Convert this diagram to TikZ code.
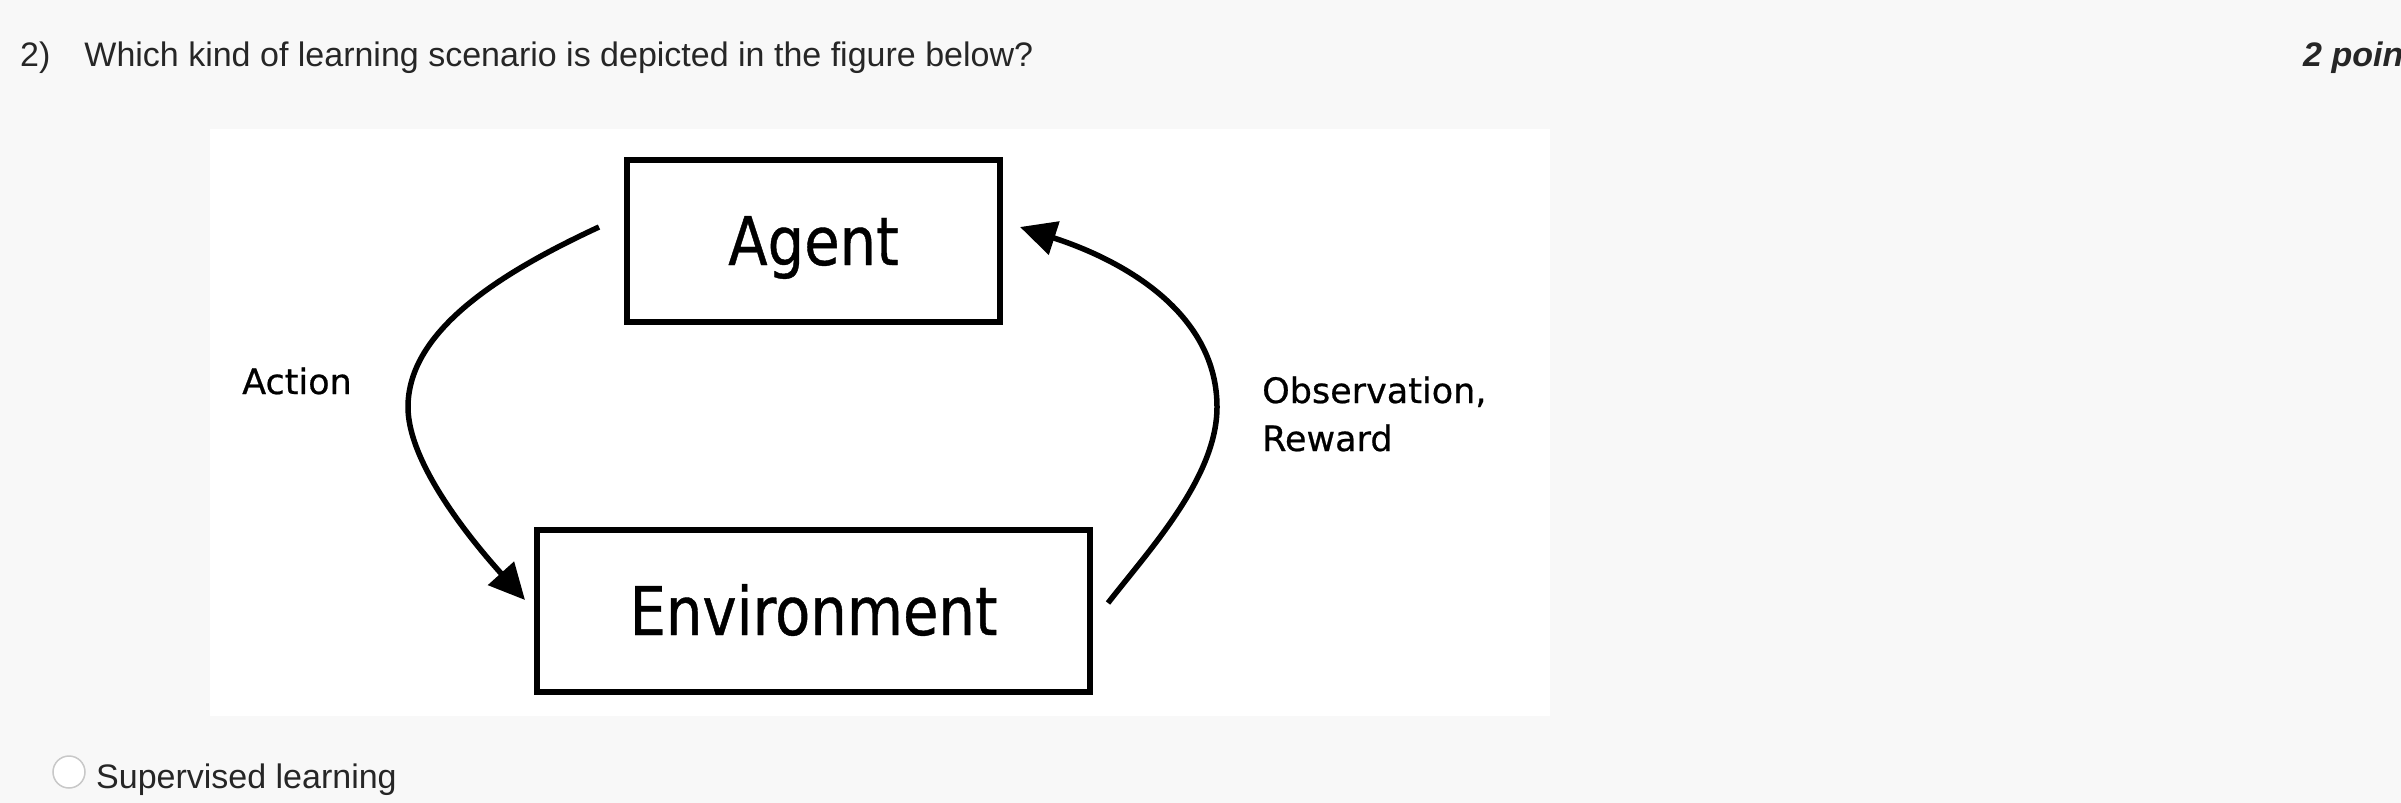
\documentclass[tikz,border=0pt]{standalone}
\usepackage{fontspec}
\setmainfont{Liberation Sans}
\newfontfamily\figfont[FakeStretch=0.86,FakeBold=0.6]{DejaVu Sans}
\newfontfamily\lblfont[FakeBold=0.6]{DejaVu Sans}
\usetikzlibrary{arrows.meta}
\definecolor{pagebg}{HTML}{F8F8F8}
\definecolor{qtext}{HTML}{262626}
\definecolor{radiogray}{HTML}{C8C8C8}
\begin{document}
\begin{tikzpicture}[x=1pt,y=-1pt,
  box/.style={draw=black, line width=6pt, fill=white, minimum height=162pt, inner sep=0pt,
    text height=48pt, text depth=0pt, font=\figfont\fontsize{67}{80}\selectfont, text=black},
  lbl/.style={font=\lblfont\fontsize{35}{48}\selectfont, inner sep=0pt, anchor=base west, text=black},
  qtxt/.style={font=\fontsize{34}{40}\selectfont, inner sep=0pt, anchor=base west, text=qtext},
  flow/.style={line width=5.5pt, -{Triangle[length=36pt,width=34pt]}}
]
\fill[pagebg] (0,0) rectangle (2401,803);
\useasboundingbox (0,0) rectangle (2401,803);
\fill[white] (210,129) rectangle (1550,716);

\node[qtxt] (question) at (20,66) {2)\hspace{34pt}Which kind of learning scenario is depicted in the figure below?};
\node[qtxt, font=\bfseries\itshape\fontsize{34}{40}\selectfont] (points) at (2303,66) {2 poin};

\node[box, minimum width=373pt] (agent) at (813.5,241) {Agent};
\node[box, minimum width=553pt] (env) at (813.5,611) {Environment};

\node[lbl] (action) at (242,394) {Action};
\node[lbl] (obs) at (1262,403) {\begin{tabular}[t]{@{}l@{}}Observation,\\Reward\end{tabular}};

\coordinate (a1) at ([xshift=-25pt,yshift=14pt]agent.west);
\coordinate (lm) at (408,407);
\coordinate (e1) at ([xshift=-9pt,yshift=11pt]env.west);
\draw[flow] (a1) .. controls (502,272) and (408,330) .. (lm) .. controls (408,467) and (480,550) .. (e1);

\coordinate (e2) at ([xshift=15pt,yshift=8pt]env.east);
\coordinate (rm) at (1217,407);
\coordinate (a2) at ([xshift=17pt,yshift=14pt]agent.east);
\draw[flow] (e2) .. controls (1150,549) and (1217,477) .. (rm) .. controls (1217,317) and (1131,263) .. (a2);

\node[circle, draw=radiogray, fill=white, line width=1.5pt, minimum size=32pt, inner sep=0pt] (radio) at (69,772) {};
\node[qtxt] (opt) at (96,788) {Supervised learning};
\end{tikzpicture}
\end{document}
